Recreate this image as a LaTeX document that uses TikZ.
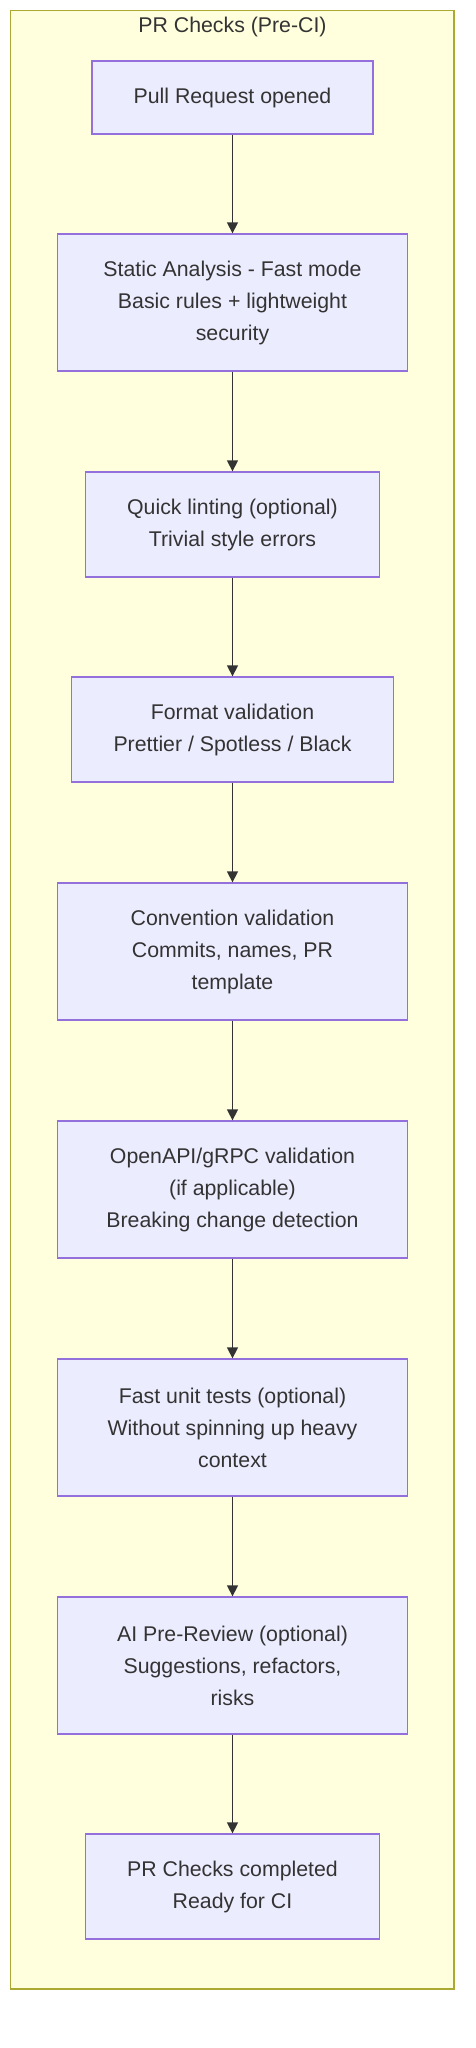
\documentclass[tikz,border=0pt]{standalone}
\usepackage{fontspec}
\setmainfont{Liberation Sans}
\usetikzlibrary{arrows.meta}
\definecolor{boxfill}{HTML}{ECECFF}
\definecolor{boxline}{HTML}{9370DB}
\definecolor{clfill}{HTML}{FFFFDE}
\definecolor{clline}{HTML}{AAAA33}
\definecolor{txt}{HTML}{333333}
\tikzset{
  cluster/.style={draw=clline, fill=clfill, line width=1.3pt},
  stepbox/.style={draw=boxline, fill=boxfill, line width=1.3pt, inner sep=0pt,
    align=center, text=txt, font=\fontsize{21.3}{32}\selectfont},
  cltitle/.style={text=txt, font=\fontsize{21.3}{32}\selectfont, inner sep=0pt},
  arr/.style={draw=txt, line width=1.3pt, -{Triangle[length=11pt,width=11pt]}},
}
\begin{document}
\begin{tikzpicture}[x=1pt,y=-1pt]
\useasboundingbox (0,0) rectangle (476,2048);
\draw[cluster] (10.7,10.7) rectangle (454,1989);
\node[cltitle, anchor=base] (title) at (232.5,32.3) {PR Checks (Pre-CI)};
\node[stepbox, minimum width=281pt, minimum height=73pt] (b1) at (232.5,97.5) {Pull Request opened};
\node[stepbox, minimum width=349.6pt, minimum height=137pt] (b2) at (232.5,302.5) {Static Analysis - Fast mode\\Basic rules + lightweight\\security};
\node[stepbox, minimum width=293.6pt, minimum height=105pt] (b3) at (232.5,524.5) {Quick linting (optional)\\Trivial style errors};
\node[stepbox, minimum width=321.6pt, minimum height=105pt] (b4) at (232.5,729.5) {Format validation\\Prettier / Spotless / Black};
\node[stepbox, minimum width=349.6pt, minimum height=137pt] (b5) at (232.5,951.5) {Convention validation\\Commits, names, PR\\template};
\node[stepbox, minimum width=349.6pt, minimum height=137pt] (b6) at (232.5,1189.5) {OpenAPI/gRPC validation\\(if applicable)\\Breaking change detection};
\node[stepbox, minimum width=349.6pt, minimum height=137pt] (b7) at (232.5,1427.5) {Fast unit tests (optional)\\Without spinning up heavy\\context};
\node[stepbox, minimum width=349.6pt, minimum height=137pt] (b8) at (232.5,1665.5) {AI Pre-Review (optional)\\Suggestions, refactors,\\risks};
\node[stepbox, minimum width=293.6pt, minimum height=105pt] (b9) at (232.5,1886.5) {PR Checks completed\\Ready for CI};
\draw[arr] (b1) -- (b2);
\draw[arr] (b2) -- (b3);
\draw[arr] (b3) -- (b4);
\draw[arr] (b4) -- (b5);
\draw[arr] (b5) -- (b6);
\draw[arr] (b6) -- (b7);
\draw[arr] (b7) -- (b8);
\draw[arr] (b8) -- (b9);
\end{tikzpicture}
\end{document}
